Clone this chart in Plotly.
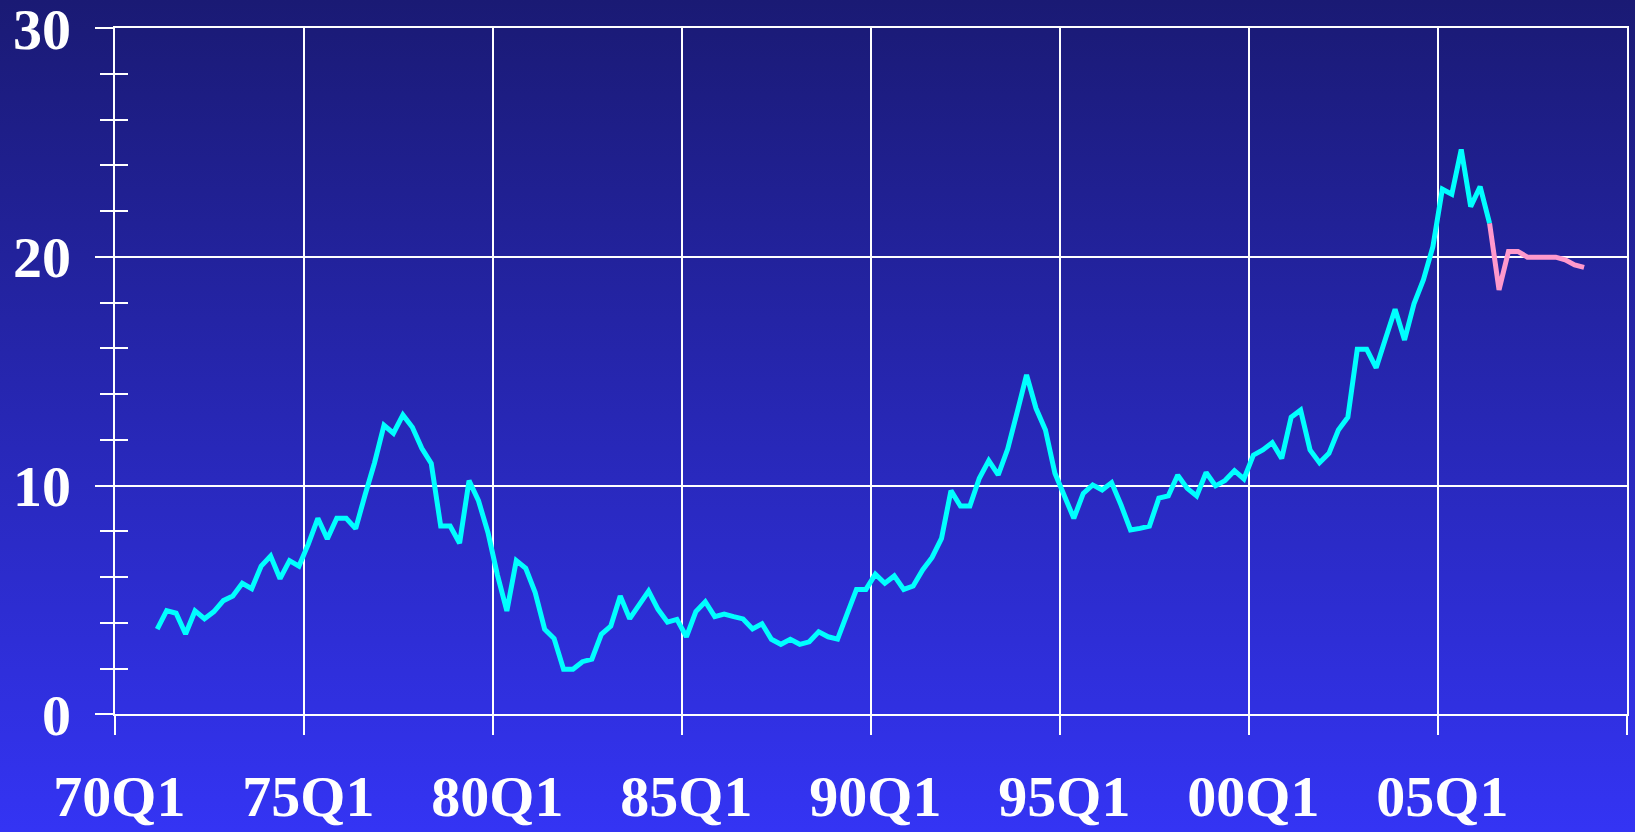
import base64
import plotly.graph_objects as go

# ---------------- data ----------------
# quarterly categories 70Q1 .. 09Q4
quarters = [f"{(70 + i // 4) % 100:02d}Q{i % 4 + 1}" for i in range(160)]

actual_start = "71Q1"
actual = [3.72, 4.53, 4.42, 3.51, 4.52, 4.18, 4.49, 4.97, 5.17, 5.73, 5.49, 6.48,
          6.92, 5.93, 6.72, 6.48, 7.45, 8.57, 7.67, 8.57, 8.57, 8.12, 9.6, 11.0,
          12.64, 12.29, 13.09, 12.55, 11.63, 10.97, 8.23, 8.23, 7.48, 10.22, 9.34, 7.95,
          6.1, 4.52, 6.72, 6.38, 5.32, 3.72, 3.31, 1.97, 1.97, 2.30, 2.41, 3.5,
          3.86, 5.17, 4.18, 4.76, 5.39, 4.59, 4.03, 4.15, 3.39, 4.49, 4.92, 4.27,
          4.38, 4.27, 4.17, 3.73, 3.96, 3.28, 3.06, 3.28, 3.06, 3.17, 3.61, 3.39,
          3.29, 4.38, 5.46, 5.46, 6.13, 5.73, 6.05, 5.46, 5.61, 6.31, 6.86, 7.69,
          9.78, 9.11, 9.11, 10.32, 11.09, 10.47, 11.6, 13.2, 14.84, 13.38, 12.43, 10.54,
          9.52, 8.57, 9.66, 10.03, 9.81, 10.13, 9.15, 8.06, 8.13, 8.23, 9.45, 9.55,
          10.46, 9.88, 9.55, 10.57, 9.99, 10.22, 10.65, 10.29, 11.33, 11.56, 11.88, 11.19,
          12.99, 13.3, 11.56, 11.0, 11.41, 12.43, 12.99, 15.96, 15.96, 15.15, 16.44, 17.71,
          16.37, 17.95, 19.0, 20.45, 22.96, 22.74, 24.7, 22.2, 23.07, 21.47]

forecast_start = "06Q2"
forecast = [21.47, 18.56, 20.24, 20.24, 19.99, 19.99, 19.99, 19.99, 19.87, 19.65, 19.54]

x_tick_labels = ["70Q1", "75Q1", "80Q1", "85Q1", "90Q1", "95Q1", "00Q1", "05Q1"]
y_tick_values = [0, 10, 20, 30]
y_minor_step = 2

# ---------------- figure ----------------
W, H = 1635, 832
n_q = len(quarters)


def xpos(start, n):
    i0 = quarters.index(start)
    return [i0 + k + 0.5 for k in range(n)]   # centre of each quarter


grid_pos = [quarters.index(l) for l in x_tick_labels] + [n_q]
label_pos = [quarters.index(l) + 0.5 for l in x_tick_labels]

font_fam = "Liberation Serif, Times New Roman, serif"
tick_font = dict(family=font_fam, size=58, color="white", weight="bold")

fig = go.Figure()
fig.add_trace(go.Scatter(x=xpos(actual_start, len(actual)), y=actual, mode="lines",
                         line=dict(color="#00FFFF", width=5), showlegend=False,
                         hoverinfo="skip"))
fig.add_trace(go.Scatter(x=xpos(forecast_start, len(forecast)), y=forecast, mode="lines",
                         line=dict(color="#FF99CC", width=5), showlegend=False,
                         hoverinfo="skip"))
# helper trace for overlay axes (labels and crossing minor ticks)
fig.add_trace(go.Scatter(x=[None], y=[None], xaxis="x2", yaxis="y2", mode="lines",
                         showlegend=False, hoverinfo="skip"))

svg = ('<svg xmlns="http://www.w3.org/2000/svg" width="1635" height="832" '
       'preserveAspectRatio="none"><defs><linearGradient id="g" x1="0" y1="0" x2="0" y2="1">'
       '<stop offset="0" stop-color="#1a1a74"/><stop offset="1" stop-color="#3434f4"/>'
       '</linearGradient></defs><rect width="1635" height="832" fill="url(#g)"/></svg>')
bg_src = "data:image/svg+xml;base64," + base64.b64encode(svg.encode()).decode()

x_dom = [114.7 / W, 1626.6 / W]
y_dom = [(H - 714.3) / H, (H - 28.2) / H]

fig.update_layout(
    width=W, height=H,
    margin=dict(l=0, r=0, t=0, b=0, pad=0, autoexpand=False),
    paper_bgcolor="#2a2ab4",
    plot_bgcolor="rgba(0,0,0,0)",
    images=[dict(source=bg_src, xref="paper", yref="paper", x=0, y=1, sizex=1, sizey=1,
                 xanchor="left", yanchor="top", sizing="stretch", layer="below")],
    xaxis=dict(domain=x_dom, range=[0, n_q], tickmode="array", tickvals=grid_pos,
               showticklabels=False, ticks="outside", ticklen=19, tickwidth=2,
               tickcolor="white", showgrid=True, gridcolor="white", gridwidth=2,
               showline=True, mirror=True, linecolor="white", linewidth=2,
               zeroline=False, anchor="y", fixedrange=True, automargin=False),
    yaxis=dict(domain=y_dom, range=[0, 30], tickmode="array", tickvals=y_tick_values,
               ticks="outside", ticklen=18, tickwidth=2, tickcolor="white",
               tickfont=tick_font, ticklabelstandoff=12, ticklabeloverflow="allow",
               showgrid=True, gridcolor="white", gridwidth=2,
               showline=True, mirror=True, linecolor="white", linewidth=2,
               zeroline=False, anchor="x", automargin=False,
               minor=dict(dtick=y_minor_step, tick0=0, ticks="outside", ticklen=13,
                          tickwidth=2, tickcolor="white", showgrid=False),
               fixedrange=True),
    xaxis2=dict(overlaying="x", range=[0, n_q], tickmode="array", tickvals=label_pos,
                ticktext=x_tick_labels, tickfont=tick_font, ticks="", showgrid=False,
                showline=False, zeroline=False, anchor="y2", side="bottom",
                ticklabelstandoff=43, ticklabeloverflow="allow", fixedrange=True,
                automargin=False),
    yaxis2=dict(overlaying="y", range=[0, 30], tickmode="linear", tick0=0,
                dtick=y_minor_step, ticks="inside", ticklen=13, tickwidth=2,
                tickcolor="white", showticklabels=False, showgrid=False, showline=False,
                zeroline=False, anchor="x2", side="left", fixedrange=True,
                automargin=False),
)

fig.write_html("out.html", config={"displayModeBar": False, "staticPlot": True},
               post_script="document.body.style.margin='0';document.body.style.background='#1a1a74';")
